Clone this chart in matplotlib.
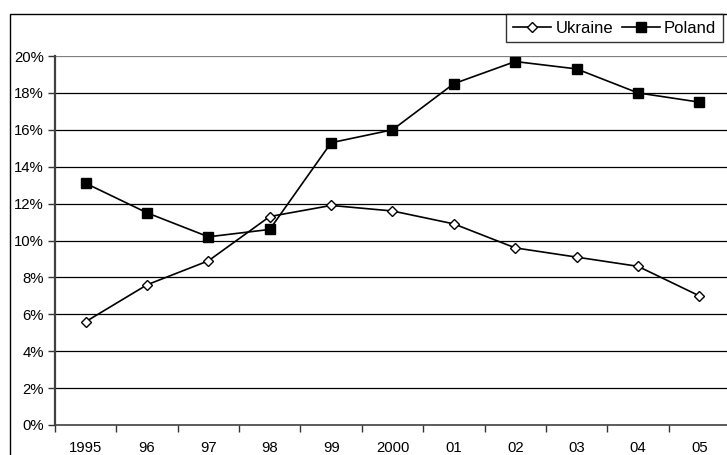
import matplotlib
matplotlib.use("Agg")
import matplotlib.pyplot as plt
from matplotlib.patches import Rectangle
from matplotlib.lines import Line2D

plt.rcParams['font.family'] = ['Liberation Sans', 'DejaVu Sans']

years = ["1995", "96", "97", "98", "99", "2000", "01", "02", "03", "04", "05"]
ukraine = [5.6, 7.6, 8.9, 11.3, 11.9, 11.6, 10.9, 9.6, 9.1, 8.6, 7.0]
poland = [13.1, 11.5, 10.2, 10.6, 15.3, 16.0, 18.5, 19.7, 19.3, 18.0, 17.5]
yticks = [0, 2, 4, 6, 8, 10, 12, 14, 16, 18, 20]

W, H = 727, 455
fig = plt.figure(figsize=(W/100, H/100), dpi=100)
ax = fig.add_axes([55/W, 1-425/H, 675/W, 369/H])

x = list(range(len(years)))
ax.plot(x, ukraine, color='black', lw=1.2, marker='D', markersize=5.5,
        markerfacecolor='white', markeredgecolor='black', markeredgewidth=1.0,
        label='Ukraine', zorder=3)
ax.plot(x, poland, color='black', lw=1.2, marker='s', markersize=7,
        markerfacecolor='black', markeredgecolor='black',
        label='Poland', zorder=3)

ax.set_xlim(-0.5, len(years)-0.5)
ax.set_ylim(0, 20)
ax.set_yticks(yticks)
ax.set_yticklabels([f"{v}%" for v in yticks], fontsize=10.7)
for v in yticks[1:]:
    ax.axhline(v, color='black' if v < 20 else '#808080', lw=0.9, zorder=1)

ax.set_xticks([i + 0.5 for i in range(-1, len(years))])
ax.set_xticklabels([])
ax.set_xticks(x, minor=True)
ax.set_xticklabels(years, minor=True, fontsize=10.7)
ax.tick_params(axis='x', which='minor', length=0, pad=11.5)
ax.tick_params(axis='x', which='major', length=5, width=1, color='#333333', direction='out')
ax.tick_params(axis='y', length=5, width=1, color='#333333', direction='out', pad=3)

for s in ['top', 'right']:
    ax.spines[s].set_visible(False)
ax.spines['left'].set_color('#404040')
ax.spines['left'].set_linewidth(1.6)
ax.spines['bottom'].set_color('#404040')
ax.spines['bottom'].set_linewidth(1.2)

# chart area border
fig.patches.append(Rectangle((10/W, -0.1), 1.2, 1-14/H+0.1, transform=fig.transFigure,
                             fill=False, edgecolor='black', lw=1.0))

handles = [Line2D([], [], color='black', lw=1.2, marker='D', markersize=5,
                  markerfacecolor='white', markeredgecolor='black'),
           Line2D([], [], color='black', lw=1.2, marker='s', markersize=6.5,
                  markerfacecolor='black')]
leg = fig.legend(handles, ['Ukraine', 'Poland'], loc='upper right',
                 bbox_to_anchor=(723/W, 1-14/H), ncol=2, fontsize=12,
                 frameon=True, fancybox=False, edgecolor='black',
                 handlelength=2.3, handletextpad=0.25, columnspacing=0.5,
                 borderpad=0.4, borderaxespad=0)
leg.get_frame().set_linewidth(1.0)

fig.savefig("out.png", dpi=100)
